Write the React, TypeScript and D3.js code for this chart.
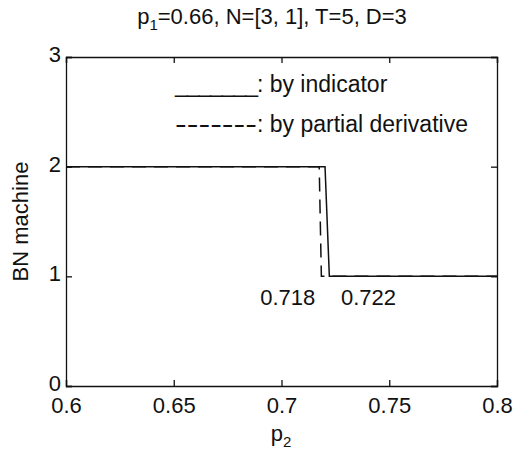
import React, { useEffect, useRef } from "react";
import * as d3 from "d3";

// solid: by indicator, dashed: by partial derivative
const p2Indicator = [0.6, 0.7202, 0.7222, 0.8];
const bnIndicator = [2, 2, 1, 1];
const p2Partial = [0.6, 0.7175, 0.7185, 0.8];
const bnPartial = [2, 2, 1, 1];
const xTicks = [0.6, 0.65, 0.7, 0.75, 0.8];
const yTicks = [0, 1, 2, 3];
const marks = [
  { label: "0.718", x: 0.718, anchor: "end" },
  { label: "0.722", x: 0.722, anchor: "start" },
];

const FONT = "Liberation Sans, Arial, Helvetica, sans-serif";

export default function App() {
  const svgRef = useRef<SVGSVGElement>(null);

  useEffect(() => {
    const w = 514;
    const h = 456;
    const m = { top: 57, right: 17, bottom: 70, left: 66 };
    const svg = d3.select(svgRef.current)
      .attr("width", w)
      .attr("height", h)
      .style("font-family", FONT);
    svg.selectAll("*").remove();

    const x = d3.scaleLinear().domain([0.6, 0.8]).range([m.left, w - m.right]);
    const y = d3.scaleLinear().domain([0, 3]).range([h - m.bottom, m.top]);

    svg.append("rect").attr("width", w).attr("height", h).attr("fill", "#fff");

    // axes, inward ticks on all sides
    const tl = 6;
    const bottom = svg.append("g")
      .attr("transform", `translate(0,${y(0)})`)
      .call(d3.axisBottom(x).tickValues(xTicks).tickSize(-tl).tickPadding(11)
        .tickFormat(d => String(+d)));
    const top = svg.append("g")
      .attr("transform", `translate(0,${y(3)})`)
      .call(d3.axisTop(x).tickValues(xTicks).tickSize(-tl).tickFormat(() => ""));
    const left = svg.append("g")
      .attr("transform", `translate(${x(0.6)},0)`)
      .call(d3.axisLeft(y).tickValues(yTicks).tickSize(-tl).tickPadding(5)
        .tickFormat(d3.format("d")));
    const right = svg.append("g")
      .attr("transform", `translate(${x(0.8)},0)`)
      .call(d3.axisRight(y).tickValues(yTicks).tickSize(-tl).tickFormat(() => ""));
    [bottom, top, left, right].forEach(g => {
      g.selectAll("path, line").attr("stroke", "#111").attr("stroke-width", 1.3);
      g.selectAll("text").attr("fill", "#111").style("font-size", "22px")
        .style("font-family", FONT);
    });
    bottom.selectAll("text").attr("dy", "0.72em");
    left.selectAll("text").attr("dy", "0.2em");

    const stepLine = d3.line<[number, number]>().x(d => x(d[0])).y(d => y(d[1]));
    svg.append("path")
      .datum(d3.zip(p2Partial, bnPartial) as [number, number][])
      .attr("d", stepLine)
      .attr("fill", "none")
      .attr("stroke", "#111")
      .attr("stroke-width", 1.5)
      .attr("stroke-dasharray", "14,8");
    svg.append("path")
      .datum(d3.zip(p2Indicator, bnIndicator) as [number, number][])
      .attr("d", stepLine)
      .attr("fill", "none")
      .attr("stroke", "#111")
      .attr("stroke-width", 1.5);

    svg.selectAll(".mark")
      .data(marks)
      .join("text")
      .attr("class", "mark")
      .attr("x", d => x(d.x) + (d.anchor === "end" ? -5 : 12))
      .attr("y", y(1) + 29)
      .attr("text-anchor", d => d.anchor)
      .style("font-size", "22px")
      .attr("fill", "#111")
      .text(d => d.label);

    // legend text
    const lg = svg.append("g").style("font-size", "23px").attr("fill", "#111");
    const l1 = lg.append("text").attr("x", 175).attr("y", 92);
    l1.append("tspan").attr("textLength", 83).text("_______");
    l1.append("tspan").text(": by indicator");
    const l2 = lg.append("text").attr("x", 175).attr("y", 132);
    l2.append("tspan").attr("textLength", 82).attr("lengthAdjust", "spacingAndGlyphs")
      .text("-------");
    l2.append("tspan").text(": by partial derivative");

    // title
    const t = svg.append("text").attr("x", 272).attr("y", 24)
      .attr("text-anchor", "middle").style("font-size", "22px").attr("fill", "#111");
    t.append("tspan").text("p");
    t.append("tspan").attr("dy", 6).style("font-size", "15px").text("1");
    t.append("tspan").attr("dy", -6).text("=0.66, N=[3, 1], T=5, D=3");

    // x label
    const xl = svg.append("text").attr("x", 281).attr("y", 441)
      .attr("text-anchor", "middle").style("font-size", "22px").attr("fill", "#111");
    xl.append("tspan").text("p");
    xl.append("tspan").attr("dy", 6).style("font-size", "15px").text("2");

    // y label
    svg.append("text")
      .attr("transform", `translate(28,${(y(0) + y(3)) / 2}) rotate(-90)`)
      .attr("text-anchor", "middle")
      .style("font-size", "22px")
      .attr("fill", "#111")
      .text("BN machine");
  }, []);

  return (
    <div style={{ position: "absolute", left: 0, top: 0 }}>
      <svg ref={svgRef} style={{ display: "block" }}></svg>
    </div>
  );
}
